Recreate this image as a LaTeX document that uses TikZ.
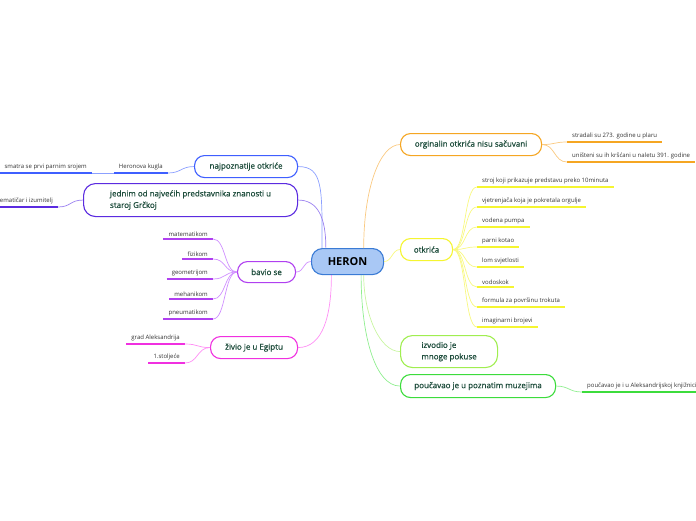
\documentclass[tikz,border=0pt]{standalone}
\usepackage{fontspec}
\setmainfont{Open Sans}
\newfontfamily\semib[FakeBold=0.9]{Open Sans}
\definecolor{heronfill}{HTML}{A9C8F5}
\definecolor{heronbd}{HTML}{3A7BD5}
\definecolor{maintext}{HTML}{1E4D3C}
\definecolor{leaftext}{HTML}{333333}
\definecolor{cblue}{HTML}{3F5FFF}\definecolor{lblue}{HTML}{8CA0FF}
\definecolor{cindigo}{HTML}{5B2BE0}\definecolor{lindigo}{HTML}{9A80F0}
\definecolor{cpurple}{HTML}{B040F0}\definecolor{lpurple}{HTML}{D090FF}
\definecolor{cmag}{HTML}{F030E0}\definecolor{lmag}{HTML}{FF90F5}
\definecolor{corange}{HTML}{F5A623}\definecolor{lorange}{HTML}{FAC980}
\definecolor{cyellow}{HTML}{F5F530}\definecolor{lyellow}{HTML}{F8F880}
\definecolor{clime}{HTML}{A0EE50}\definecolor{llime}{HTML}{C8F5A0}
\definecolor{cgreen}{HTML}{3CDC3C}\definecolor{lgreen}{HTML}{90EE90}
\begin{document}
\begin{tikzpicture}[x=1pt,y=-1pt,
  mainbox/.style={draw=#1, line width=1.1pt, rounded corners=10pt, fill=white, text=maintext,
    font=\semib\fontsize{8}{11.5}\selectfont, inner xsep=0pt, align=left, anchor=north west},
  heronbox/.style={draw=heronbd, line width=1.1pt, rounded corners=11pt, fill=heronfill,
    font=\bfseries\fontsize{11}{12}\selectfont, anchor=north west},
  leaf/.style={font=\fontsize{6}{7}\selectfont, text=leaftext, inner xsep=5pt, inner ysep=2.5pt},
  conn/.style={draw=#1, line width=0.7pt},
  ul/.style={draw=#1, line width=1.8pt}]
\useasboundingbox (0,0) rectangle (696,520);

% main nodes
\node[heronbox, minimum width=72pt, minimum height=26pt] (heron) at (311,248) {HERON};
\node[mainbox=cblue, minimum width=103pt, minimum height=22pt] (najp) at (194,155) {najpoznatije otkriće};
\node[mainbox=cindigo, minimum width=214pt, minimum height=33pt, rounded corners=12pt] (jed) at (83,183) {jednim od najvećih predstavnika znanosti u\\staroj Grčkoj};
\node[mainbox=cpurple, minimum width=58pt, minimum height=21pt] (bav) at (237,261) {bavio se};
\node[mainbox=cmag, minimum width=87pt, minimum height=22pt] (ziv) at (210,336) {živio je u Egiptu};
\node[mainbox=corange, minimum width=141pt, minimum height=22pt] (orig) at (400,133) {orginalin otkrića nisu sačuvani};
\node[mainbox=cyellow, minimum width=52pt, minimum height=22pt] (otk) at (400,238) {otkrića};
\node[mainbox=clime, minimum width=97pt, minimum height=32pt, rounded corners=12pt] (izv) at (400,335) {izvodio je\\mnoge pokuse};
\node[mainbox=cgreen, minimum width=155pt, minimum height=23pt] (pou) at (400,374) {poučavao je u poznatim muzejima};

% heron connectors
\draw[conn=lblue] (heron.152) .. controls +(0,-60) and +(25,0) .. (najp.east);
\draw[conn=lindigo] (heron.148) .. controls +(0,-30) and +(20,0) .. (jed.east);
\draw[conn=lpurple] (heron.west) .. controls +(-8,0) and +(8,0) .. (bav.east);
\draw[conn=lmag] (heron.220) .. controls +(0,40) and +(25,0) .. (ziv.east);
\draw[conn=lorange] (heron.40) .. controls +(0,-60) and +(-20,0) .. (orig.west);
\draw[conn=lyellow] (heron.east) .. controls +(8,0) and +(-8,0) .. (otk.west);
\draw[conn=llime] (heron.-40) .. controls +(0,40) and +(-20,0) .. (izv.west);
\draw[conn=lgreen] (heron.-45) .. controls +(0,60) and +(-25,0) .. (pou.west);

% left leaves
\node[leaf, anchor=south east] (hk) at (168,173) {Heronova kugla};
\node[leaf, anchor=south east] (sm) at (92,173) {smatra se prvi parnim srojem};
\node[leaf, anchor=south east] (mi) at (58,207) {matematičar i izumitelj};
\draw[ul=cblue] (hk.south west) -- (hk.south east);
\draw[ul=cblue] (sm.south west) -- (sm.south east);
\draw[ul=cindigo] (mi.south west) -- (mi.south east);
\draw[conn=lblue] (najp.west) .. controls +(-13,0) and +(13,0) .. (hk.south east);
\draw[conn=lblue] (hk.south west) .. controls +(-10,0) and +(10,0) .. (sm.south east);
\draw[conn=lindigo] (jed.west) .. controls +(-13,0) and +(13,0) .. (mi.south east);

\foreach \n/\t/\y in {b1/matematikom/239, b2/fizikom/259, b3/geometrijom/279, b4/mehanikom/299, b5/pneumatikom/319}{
  \node[leaf, anchor=south east] (\n) at (213,\y) {\t};
  \draw[ul=cpurple] (\n.south west) -- (\n.south east);
  \draw[conn=lpurple] (bav.west) .. controls +(-13,0) and +(13,0) .. (\n.south east);
}
\node[leaf, anchor=south east] (z1) at (185,344) {grad Aleksandrija};
\node[leaf, anchor=south east] (z2) at (185,363) {1.stoljeće};
\foreach \n in {z1,z2}{
  \draw[ul=cmag] (\n.south west) -- (\n.south east);
  \draw[conn=lmag] (ziv.west) .. controls +(-13,0) and +(13,0) .. (\n.south east);
}

% right leaves
\node[leaf, anchor=south west] (o1) at (567,142) {stradali su 273. godine u plaru};
\node[leaf, anchor=south west] (o2) at (567,162) {uništeni su ih kršćani u naletu 391. godine};
\foreach \n in {o1,o2}{
  \draw[ul=corange] (\n.south west) -- (\n.south east);
  \draw[conn=lorange] (orig.east) .. controls +(13,0) and +(-13,0) .. (\n.south west);
}
\foreach \n/\t/\y in {k1/stroj koji prikazuje predstavu preko 10minuta/187,
  k2/vjetrenjača koja je pokretala orgulje/207, k3/vodena pumpa/227, k4/parni kotao/247,
  k5/lom svjetlosti/267, k6/vodoskok/287, k7/formula za površinu trokuta/307, k8/imaginarni brojevi/327}{
  \node[leaf, anchor=south west] (\n) at (477,\y) {\t};
  \draw[ul=cyellow] (\n.south west) -- (\n.south east);
  \draw[conn=lyellow] (otk.east) .. controls +(13,0) and +(-13,0) .. (\n.south west);
}
\node[leaf, anchor=south west] (p1) at (582,392) {poučavao je i u Aleksandrijskoj knjižnici};
\draw[ul=cgreen] (p1.south west) -- (p1.south east);
\draw[conn=lgreen] (pou.east) .. controls +(13,0) and +(-13,0) .. (p1.south west);
\end{tikzpicture}
\end{document}
